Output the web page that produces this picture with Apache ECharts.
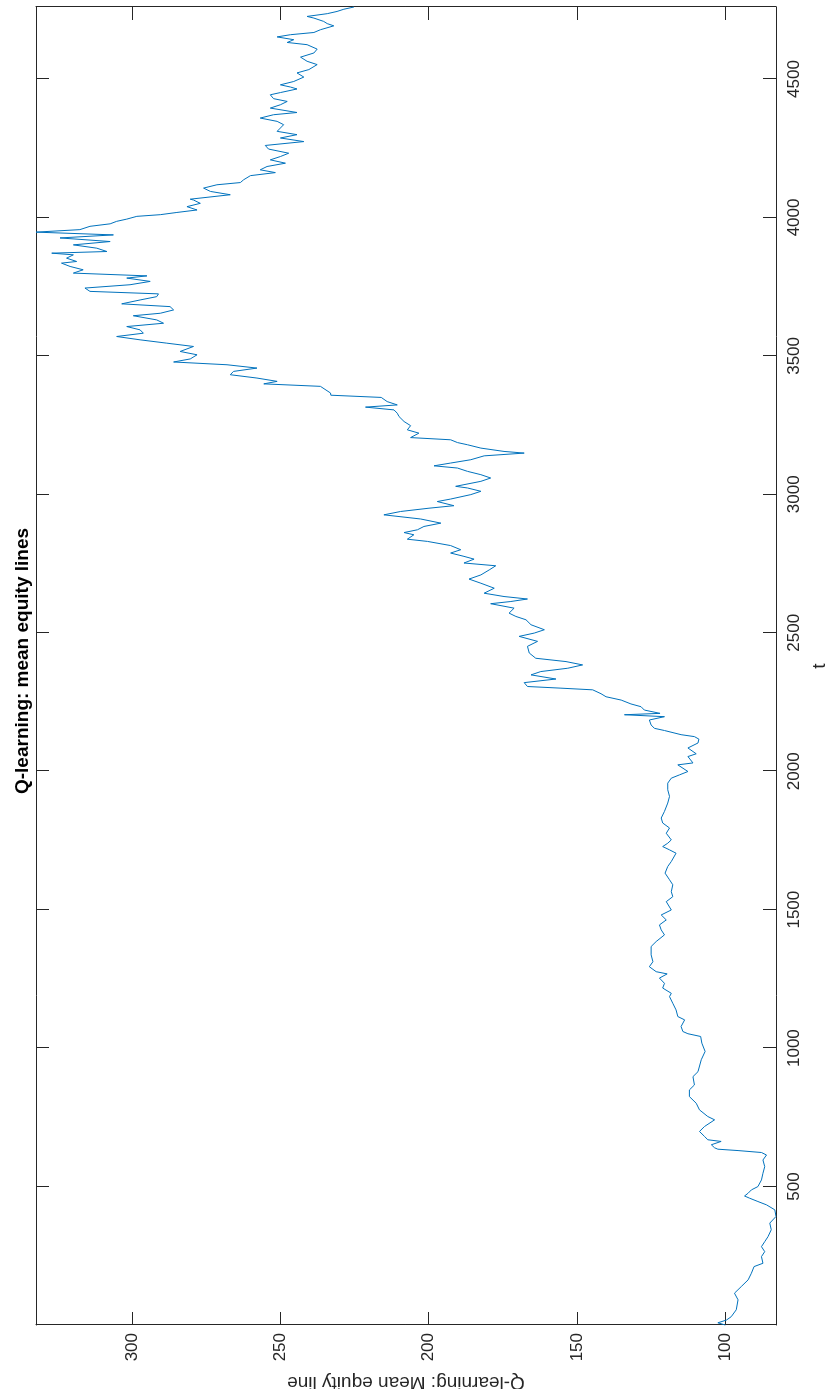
<!DOCTYPE html>
<html>
<head>
<meta charset="utf-8">
<script src="https://cdn.jsdelivr.net/npm/echarts@6/dist/echarts.min.js"></script>
<style>
html,body{margin:0;padding:0;background:#fff;overflow:hidden;width:825px;height:1389px;}
#chart{position:absolute;left:0;top:0;width:1389px;height:825px;transform-origin:0 0;transform:translateY(1389px) rotate(-90deg);}
</style>
</head>
<body>
<div id="chart"></div>
<script>
// time steps (t) and mean equity values
const T = [
0, 8, 18, 30, 55, 91, 115, 139, 163, 187,
211, 223, 247, 265, 283, 301, 319, 344, 368, 392,
416, 434, 446, 458, 466, 476, 488, 500, 524, 548,
572, 596, 614, 623, 630, 635, 640, 651, 663, 669,
681, 699, 717, 741, 753, 777, 801, 825, 849, 867,
897, 915,
921, 958, 988, 1018, 1042, 1052, 1060, 1078, 1102, 1114,
1138, 1162, 1186, 1198, 1217, 1234, 1253, 1268, 1276, 1294,
1312, 1337, 1367, 1385, 1409, 1427, 1445, 1463, 1481, 1499,
1529, 1547, 1565, 1590, 1608, 1632, 1656, 1674, 1704, 1716,
1728, 1740,
1752, 1776, 1795, 1813, 1831, 1855, 1885, 1909, 1933, 1957,
1975, 1987, 1999, 2023, 2030, 2053, 2063, 2084, 2102, 2116,
2125, 2132, 2147, 2155, 2167, 2185, 2197, 2204, 2209, 2221,
2233, 2243, 2257, 2269, 2280, 2294, 2300, 2306, 2320, 2333,
2348, 2360, 2372, 2384, 2396, 2408, 2427, 2451, 2469, 2487,
2499, 2511, 2529, 2547, 2559, 2571, 2589, 2605, 2613,
2622, 2631, 2643, 2661, 2679, 2694, 2709, 2727, 2742, 2752,
2766, 2776, 2788, 2800, 2815, 2830, 2838, 2854, 2862, 2872,
2884, 2896, 2911, 2926, 2938, 2950, 2959, 2974, 2983, 2999,
3011, 3023, 3029, 3047, 3059, 3071, 3083, 3095, 3103, 3113,
3125, 3139, 3149, 3155, 3167, 3179, 3187, 3197, 3205, 3221,
3233, 3248, 3263, 3281, 3293, 3305, 3315, 3323, 3335, 3350,
3358,
3366, 3390, 3399, 3408, 3420, 3432, 3444, 3456, 3468, 3478,
3489, 3504, 3516, 3534, 3546, 3558, 3570, 3582, 3594, 3606,
3618, 3630, 3645, 3654, 3666, 3678, 3688, 3702, 3714, 3724,
3733, 3745, 3757, 3769, 3781, 3789, 3799, 3811, 3823, 3835,
3841, 3853, 3865, 3871, 3877, 3889, 3901, 3913, 3926, 3937,
3947, 3956, 3968, 3977, 3986, 3994, 4004, 4010, 4018, 4027,
4039, 4051, 4063,
4066, 4082, 4094, 4106, 4118, 4126, 4136, 4151, 4162, 4172,
4184, 4196, 4208, 4220, 4232, 4247, 4260, 4274, 4287, 4299,
4311, 4323, 4335, 4347, 4359, 4371, 4379, 4395, 4407, 4419,
4429, 4443, 4451, 4464, 4471, 4479, 4491, 4507, 4522, 4534,
4552, 4564, 4579, 4594, 4608, 4624, 4632, 4642, 4652, 4660,
4668, 4678, 4692, 4700, 4708, 4720, 4726, 4736, 4744, 4752,
4760
];
const V = [
100, 102.5, 99.6, 98.0, 96.3, 95.7, 96.9, 94.6, 92.3, 91.2,
90.3, 87.3, 87.8, 86.7, 87.8, 86.7, 85.6, 84.5, 85.0, 82.9,
83.3, 86.1, 89.0, 91.8, 93.5, 92.3, 91.2, 89.0, 87.8, 87.3,
86.7, 87.3, 86.1, 87.8, 95.7, 102.5, 103.6, 104.7, 101.4, 105.9,
107.0, 108.7, 107.0, 103.6, 105.9, 108.7, 109.8, 112.1, 112.1, 110.4,
110.9, 109.2,
109.2, 108.1, 106.8, 107.9, 108.3, 112.6, 114.3, 114.9, 113.7, 116.0,
116.6, 117.7, 118.8, 118.2, 121.1, 120.5, 122.2, 119.6, 123.3, 125.6,
124.4, 125.0, 125.0, 123.3, 120.5, 121.6, 122.2, 119.9, 121.6, 118.2,
119.9, 117.7, 118.2, 117.7, 118.8, 120.3, 119.4, 118.2, 116.6, 118.8,
121.1, 119.4,
118.2, 119.9, 118.8, 121.1, 121.6, 120.5, 119.4, 118.8, 119.4, 119.4,
118.2, 115.4, 112.6, 116.0, 110.9, 112.6, 109.8, 112.6, 109.2, 108.9,
110.4, 114.9, 120.5, 123.9, 125.0, 125.6, 120.5, 134.0, 122.0, 127.3,
128.4, 131.8, 135.1, 140.2, 141.9, 144.7, 155.4, 166.7, 167.8, 157.1,
165.5, 162.2, 153.1, 148.1, 153.7, 163.9, 166.1, 166.7, 163.3, 169.5,
164.4, 161.0, 165.5, 167.2, 170.6, 172.9, 171.2, 179.1, 172.3,
166.7, 174.6, 181.3, 177.9, 182.4, 186.4, 182.4, 179.6, 177.4, 188.1,
184.7, 188.1, 192.6, 189.2, 192.6, 200.4, 207.2, 205.0, 208.3, 203.8,
201.6, 195.9, 202.7, 215.1, 209.5, 199.9, 191.5, 197.1, 192.6, 185.8,
182.4, 186.9, 190.9, 182.4, 179.1, 182.4, 186.9, 190.3, 198.2, 192.6,
185.8, 181.3, 167.8, 174.6, 182.4, 186.9, 190.3, 192.6, 206.1, 203.3,
207.2, 206.1, 208.3, 210.0, 210.6, 211.7, 221.3, 210.6, 214.0, 216.0,
233.0,
233.1, 236.5, 255.6, 251.1, 257.9, 266.9, 265.8, 257.9, 268.0, 286.0,
280.4, 278.1, 283.8, 279.3, 288.3, 297.3, 305.2, 296.2, 297.3, 301.8,
289.4, 291.7, 299.6, 290.5, 286.0, 287.2, 303.5, 297.3, 291.7, 291.1,
314.2, 315.9, 300.7, 293.9, 301.8, 295.0, 319.8, 316.5, 320.9, 323.8,
318.7, 322.1, 319.8, 327.1, 308.5, 311.9, 319.8, 307.4, 324.3, 306.3,
332.4, 317.6, 314.2, 307.4, 305.2, 301.8, 298.4, 290.5, 284.9, 278.1,
281.5, 277.0, 279.3,
280.4, 266.9, 273.6, 275.9, 271.4, 263.5, 262.4, 260.1, 251.7, 256.8,
254.5, 248.3, 253.4, 250.0, 247.2, 254.0, 255.1, 242.1, 250.0, 244.4,
251.1, 250.0, 248.9, 251.1, 256.8, 252.3, 244.4, 253.4, 250.0, 247.7,
252.3, 253.4, 250.0, 244.4, 246.6, 250.0, 245.5, 242.1, 244.4, 240.4,
237.6, 241.0, 243.2, 238.7, 237.6, 241.0, 247.7, 245.5, 251.1, 246.6,
238.7, 236.5, 232.0, 234.2, 235.4, 238.7, 241.0, 234.2, 230.9, 228.6,
225.2
];
const T_TICKS = [500, 1000, 1500, 2000, 2500, 3000, 3500, 4000, 4500];
const V_TICKS = [100, 150, 200, 250, 300];
const T_RANGE = [0, 4760];
const V_RANGE = [82.9, 332.4];
const TITLE = 'Q-learning: mean equity lines';
const X_NAME = 't';
const Y_NAME = 'Q-learning: Mean equity line';

const FONT = '"Liberation Sans", Arial, Helvetica, sans-serif';
const AX = '#262626';
const data = T.map((t, i) => [t, V[i]]);
const plain = v => String(Math.round(v));

function tAxis(pos, labels) {
  return {
    type: 'value', position: pos, min: T_RANGE[0], max: T_RANGE[1],
    axisLine: {show: true, onZero: false, lineStyle: {color: AX, width: 1}},
    axisTick: {show: true, inside: true, length: 13, customValues: T_TICKS, lineStyle: {color: AX}},
    axisLabel: {show: labels, customValues: T_TICKS, formatter: plain, color: AX, fontSize: 17, fontFamily: FONT, margin: 10},
    splitLine: {show: false},
    name: labels ? X_NAME : '', nameLocation: 'middle', nameGap: 34,
    nameTextStyle: {color: AX, fontSize: 19, fontFamily: FONT}
  };
}
function vAxis(pos, labels) {
  return {
    type: 'value', position: pos, min: V_RANGE[0], max: V_RANGE[1],
    axisLine: {show: true, onZero: false, lineStyle: {color: AX, width: 1}},
    axisTick: {show: true, inside: true, length: 13, customValues: V_TICKS, lineStyle: {color: AX}},
    axisLabel: {show: labels, customValues: V_TICKS, formatter: plain, color: AX, fontSize: 17, fontFamily: FONT, margin: 8},
    splitLine: {show: false},
    name: labels ? Y_NAME : '', nameLocation: 'middle', nameGap: 29, nameRotate: 90,
    nameTextStyle: {color: AX, fontSize: 19, fontFamily: FONT}
  };
}

const chart = echarts.init(document.getElementById('chart'), null, {renderer: 'canvas', width: 1389, height: 825});
chart.setOption({
  animation: false,
  backgroundColor: '#fff',
  title: {
    text: TITLE, left: 723, top: 8, textAlign: 'center',
    textStyle: {fontSize: 19, fontWeight: 'bold', color: '#000', fontFamily: FONT}
  },
  grid: {left: 64, right: 7, top: 36, bottom: 49, containLabel: false, outerBoundsMode: 'none'},
  xAxis: [tAxis('bottom', true), tAxis('top', false)],
  yAxis: [vAxis('left', true), vAxis('right', false)],
  series: [{
    type: 'line', data: data, showSymbol: false, symbol: 'none',
    lineStyle: {color: '#0072BD', width: 1}, clip: true, xAxisIndex: 0, yAxisIndex: 0
  }]
});
</script>
</body>
</html>
